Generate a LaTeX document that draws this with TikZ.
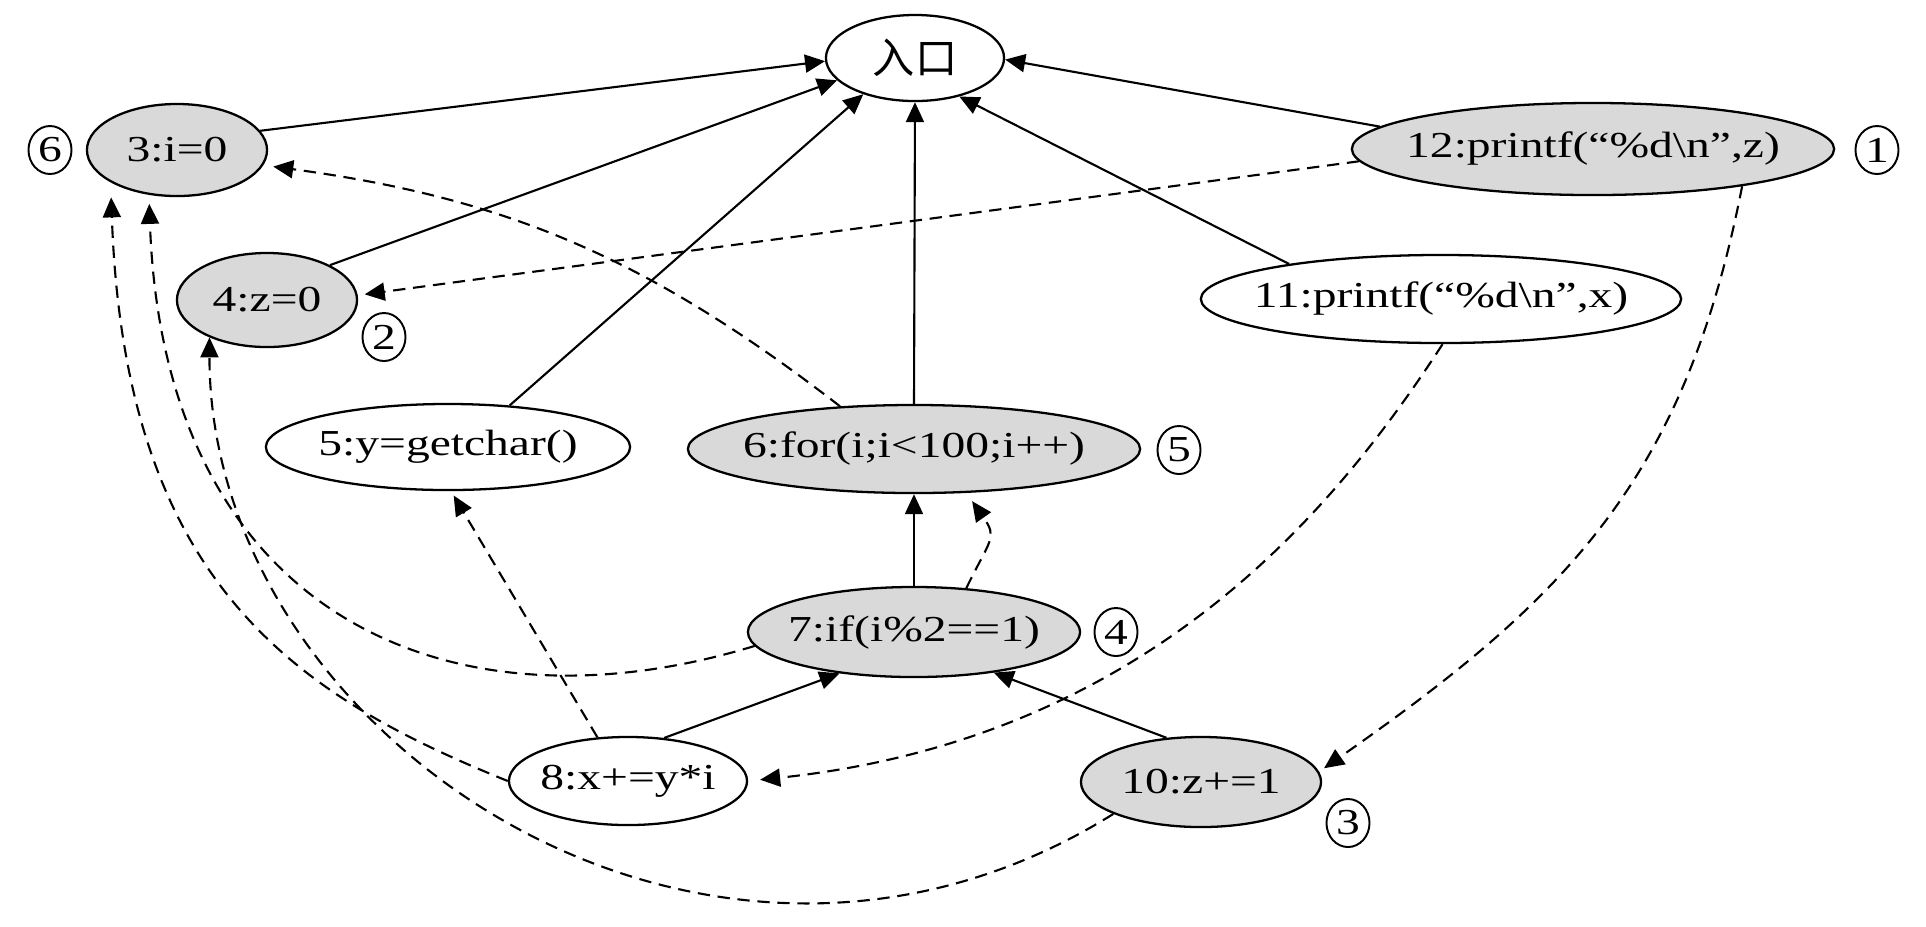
\documentclass[tikz,border=0pt]{standalone}
\usepackage{fontspec}
\setmainfont{Liberation Serif}[FakeStretch=1.3]
\newfontfamily\cjk{Noto Sans CJK SC}
\usetikzlibrary{shapes.geometric,arrows.meta}
\definecolor{nodefill}{HTML}{D9D9D9}
\newcommand\nodetxt[1]{\makebox[0pt]{#1}}
\begin{document}
\begin{tikzpicture}[x=0.01cm,y=0.01cm,
  >={Triangle[length=0.2cm,width=0.18cm]},
  every node/.style={font=\fontsize{10.4pt}{12pt}\selectfont},
  stmtbase/.style={ellipse,draw,line width=0.65pt,inner sep=0pt},
  stmtgray/.style={stmtbase,fill=nodefill},
  stmtwhite/.style={stmtbase,fill=white},
  ordermark/.style={ellipse,draw,line width=0.55pt,inner sep=0pt,minimum width=0.43cm,minimum height=0.48cm},
  ctrledge/.style={->,line width=0.6pt},
  depedge/.style={->,line width=0.6pt,dash pattern=on 3.5pt off 2.2pt},
]
\useasboundingbox (0,0) rectangle (1926,-926);

% statement nodes
\node[stmtwhite,minimum width=1.78cm,minimum height=0.86cm] (entry) at (915,-58) {\nodetxt{\cjk\fontsize{12pt}{14pt}\selectfont 入口}};
\node[stmtgray,minimum width=1.80cm,minimum height=0.92cm] (n3) at (177,-150) {\nodetxt{3:i=0}};
\node[stmtgray,minimum width=1.80cm,minimum height=0.94cm] (n4) at (267,-300) {\nodetxt{4:z=0}};
\node[stmtwhite,minimum width=3.64cm,minimum height=0.86cm] (n5) at (448,-447) {\nodetxt{5:y=getchar()}};
\node[stmtgray,minimum width=4.52cm,minimum height=0.88cm] (n6) at (914,-449) {\nodetxt{6:for(i;i<100;i++)}};
\node[stmtgray,minimum width=3.32cm,minimum height=0.90cm] (n7) at (914,-632) {\nodetxt{7:if(i\%2==1)}};
\node[stmtwhite,minimum width=2.38cm,minimum height=0.88cm] (n8) at (628,-781) {\nodetxt{8:x+=y*i}};
\node[stmtgray,minimum width=2.40cm,minimum height=0.90cm] (n10) at (1201,-782) {\nodetxt{10:z+=1}};
\node[stmtwhite,minimum width=4.80cm,minimum height=0.88cm] (n11) at (1441,-299) {\nodetxt{11:printf(“\%d\textbackslash n”,x)}};
\node[stmtgray,minimum width=4.82cm,minimum height=0.92cm] (n12) at (1593,-149) {\nodetxt{12:printf(“\%d\textbackslash n”,z)}};

% order marks
\node[ordermark] (c1) at (1877,-150) {1};
\node[ordermark] (c2) at (384,-337) {2};
\node[ordermark] (c3) at (1348,-823) {3};
\node[ordermark] (c4) at (1116,-632) {4};
\node[ordermark] (c5) at (1179,-450) {5};
\node[ordermark] (c6) at (50,-150) {6};

% control dependences
\draw[ctrledge] (n3.13) -- (entry.182);
\draw[ctrledge] (n4.29) -- (entry.196);
\draw[ctrledge] (n5.34) -- (entry.215);
\draw[ctrledge] (n6.north) -- (entry.south);
\draw[ctrledge] (n11.167) -- (entry.319);
\draw[ctrledge] (n12.174) -- (entry.359);
\draw[ctrledge] (n7.north) -- (n6.south);
\draw[ctrledge] (n8.50) -- (n7.209);
\draw[ctrledge] (n10.128) -- (n7.333);

% data dependences
\draw[depedge,shorten >=0.1cm] (n6.150) to[bend right=15] (n3.350);
\draw[depedge,shorten >=0.07cm] (n12.183) -- (n4.3);
\draw[depedge,shorten >=0.06cm] (n12.346) to[out=259,in=35,out distance=3cm,in distance=3cm] (n10.5);
\draw[depedge,shorten >=0.12cm] (n11.272) to[out=237,in=6,out distance=2cm,in distance=4cm] (n8.east);
\draw[depedge,shorten >=0.1cm] (n7.40) to[out=64,in=-55,distance=0.55cm] (n6.-40);
\draw[depedge,shorten >=0.05cm] (n8.125) -- (n5.-86);
\draw[depedge,shorten >=0.09cm] (n7.185) to[out=197,in=-88,out distance=3.2cm,in distance=4.2cm] (n3.238);
\draw[depedge,shorten >=0.15cm] (n8.west) to[out=158,in=-88,out distance=2.3cm,in distance=4cm] (n3.206);
\draw[depedge] (n10.200) to[out=212,in=-90,out distance=4.8cm,in distance=4cm] (n4.213);
\end{tikzpicture}
\end{document}
